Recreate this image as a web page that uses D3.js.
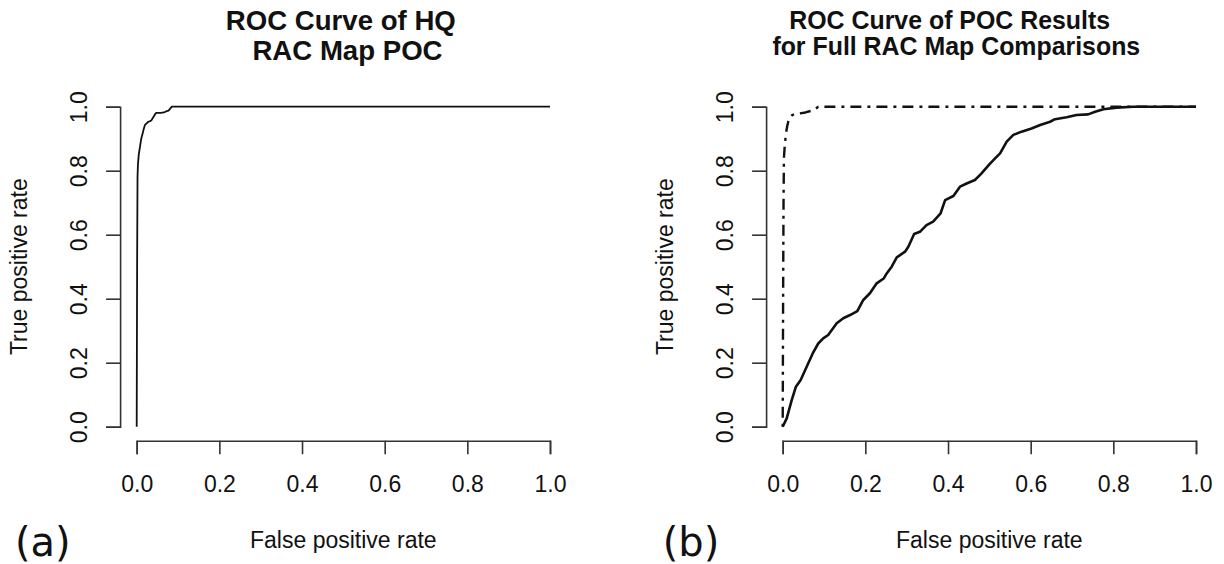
<!DOCTYPE html>
<html>
<head>
<meta charset="utf-8">
<script src="https://cdn.jsdelivr.net/npm/d3@7"></script>
<style>
  html, body { margin: 0; padding: 0; background: #fff; }
  svg { display: block; }
  text { font-family: "Liberation Sans", Arial, Helvetica, sans-serif; fill: #111; }
</style>
</head>
<body>
<svg id="chart" width="1224" height="564"></svg>
<script>
// Tick values shared by both axes of both panels
const tickValues = [0, 0.2, 0.4, 0.6, 0.8, 1.0];

// Panel (a): HQ RAC map proof of concept
const hqFpr = [0, 0.001, 0.002, 0.003, 0.005, 0.008, 0.011, 0.014, 0.017, 0.020, 0.024, 0.028,
               0.033, 0.036, 0.039, 0.042, 0.045, 0.048, 0.058, 0.066, 0.072, 0.077, 0.081, 0.085, 1.0];
const hqTpr = [0, 0.50, 0.78, 0.82, 0.85, 0.875, 0.90, 0.915, 0.93, 0.943, 0.948, 0.953,
               0.955, 0.958, 0.965, 0.971, 0.978, 0.981, 0.981, 0.982, 0.986, 0.988, 0.994, 1.0, 1.0];

// Panel (b): dash-dot curve
const bestFpr = [0, 0.001, 0.002, 0.003, 0.005, 0.008, 0.011, 0.0135, 0.018, 0.023, 0.030,
                 0.042, 0.055, 0.070, 0.080, 0.086, 1.0];
const bestTpr = [0, 0.40, 0.70, 0.84, 0.88, 0.917, 0.94, 0.953, 0.966, 0.974, 0.977,
                 0.979, 0.982, 0.9875, 0.994, 1.0, 1.0];

// Panel (b): full RAC map comparisons (solid curve)
const fullFpr = [0, 0.0097, 0.0218, 0.032, 0.0435, 0.058, 0.0726, 0.086, 0.098, 0.110, 0.1307,
                 0.1466, 0.163, 0.1805, 0.195, 0.211, 0.2274, 0.245, 0.2516, 0.2637, 0.276, 0.296,
                 0.304, 0.318, 0.332, 0.348, 0.364, 0.382, 0.393, 0.413, 0.429, 0.445, 0.465,
                 0.480, 0.500, 0.515, 0.526, 0.542, 0.558, 0.578, 0.602, 0.623, 0.647, 0.659,
                 0.687, 0.711, 0.739, 0.756, 0.776, 0.808, 0.848, 1.0];
const fullTpr = [0, 0.026, 0.083, 0.125, 0.146, 0.1875, 0.229, 0.26, 0.276, 0.2865, 0.323,
                 0.339, 0.349, 0.3615, 0.396, 0.417, 0.448, 0.464, 0.479, 0.50, 0.529, 0.547,
                 0.5625, 0.602, 0.609, 0.630, 0.641, 0.667, 0.708, 0.721, 0.75, 0.76, 0.771,
                 0.79, 0.82, 0.84, 0.854, 0.891, 0.912, 0.922, 0.932, 0.943, 0.953, 0.961,
                 0.967, 0.974, 0.976, 0.984, 0.992, 0.997, 1.0, 1.0];

const svg = d3.select("#chart");
const fmt = d3.format(".1f");

function zip(xs, ys) { return xs.map((x, i) => [x, ys[i]]); }

function panel(opts) {
  const x = d3.scaleLinear().domain([0, 1]).range([opts.x0, opts.x0 + 413.3]);
  const y = d3.scaleLinear().domain([0, 1]).range([426.7, 106.7]);
  const axisX = opts.x0 - 16.6;   // y-axis line sits 4% outside the data range
  const axisY = 440.7;
  const g = svg.append("g");

  // bottom axis
  const gx = g.append("g").attr("transform", `translate(0,${axisY})`)
    .call(d3.axisBottom(x).tickValues(tickValues).tickFormat(fmt).tickSize(13.5).tickSizeOuter(13.5));
  gx.selectAll("text").attr("y", 51.3).attr("dy", 0)
    .style("font-size", "23px").style("fill", "#111");

  // left axis
  const gy = g.append("g").attr("transform", `translate(${axisX},0)`)
    .call(d3.axisLeft(y).tickValues(tickValues).tickFormat(fmt).tickSize(14).tickSizeOuter(14));
  gy.selectAll("text")
    .attr("x", 0).attr("y", 0).attr("dy", 0)
    .attr("text-anchor", "middle")
    .attr("transform", "translate(-32.7,0) rotate(-90)")
    .style("font-size", "23px").style("fill", "#111");

  [gx, gy].forEach(a => {
    a.select(".domain").attr("stroke", "#333").attr("stroke-width", 1.6);
    a.selectAll(".tick line").attr("stroke", "#333").attr("stroke-width", 1.6);
    a.attr("font-family", null).attr("font-size", null);
  });

  // axis titles
  g.append("text")
    .attr("x", (x(0) + x(1)) / 2).attr("y", 548)
    .attr("text-anchor", "middle").style("font-size", "23px")
    .text("False positive rate");
  g.append("text")
    .attr("transform", `translate(${axisX - 92.7},${(y(0) + y(1)) / 2}) rotate(-90)`)
    .attr("text-anchor", "middle").style("font-size", "23px")
    .text("True positive rate");

  // two-line bold title
  opts.title.forEach((t, i) => {
    g.append("text")
      .attr("x", t.cx).attr("y", t.y)
      .attr("text-anchor", "middle")
      .style("font-size", opts.titleSize + "px").style("font-weight", "bold")
      .text(t.text);
  });

  // panel letter
  g.append("text")
    .attr("x", opts.letterX).attr("y", 556)
    .style("font-family", "'DejaVu Sans', Verdana, sans-serif")
    .style("font-size", "40px").style("fill", "#111")
    .text(opts.letter);

  const line = d3.line().x(d => x(d[0])).y(d => y(d[1]));
  opts.curves.forEach(c => {
    g.append("path")
      .attr("d", line(c.pts))
      .attr("fill", "none")
      .attr("stroke", "#111")
      .attr("stroke-width", c.width)
      .attr("stroke-linejoin", "round")
      .attr("stroke-dasharray", c.dash || null);
  });
}

panel({
  x0: 136.7,
  titleSize: 27.6,
  title: [
    { text: "ROC Curve of HQ", cx: 340.8, y: 29.5 },
    { text: "RAC Map POC", cx: 347.5, y: 60 }
  ],
  letter: "(a)", letterX: 15,
  curves: [ { pts: zip(hqFpr, hqTpr), width: 1.8 } ]
});

panel({
  x0: 782.7,
  titleSize: 24.9,
  title: [
    { text: "ROC Curve of POC Results", cx: 949.7, y: 28.5 },
    { text: "for Full RAC Map Comparisons", cx: 956.3, y: 55 }
  ],
  letter: "(b)", letterX: 662.7,
  curves: [
    { pts: zip(bestFpr, bestTpr), width: 2.4, dash: "3,6,11,6" },
    { pts: zip(fullFpr, fullTpr), width: 2.6 }
  ]
});
</script>
</body>
</html>
